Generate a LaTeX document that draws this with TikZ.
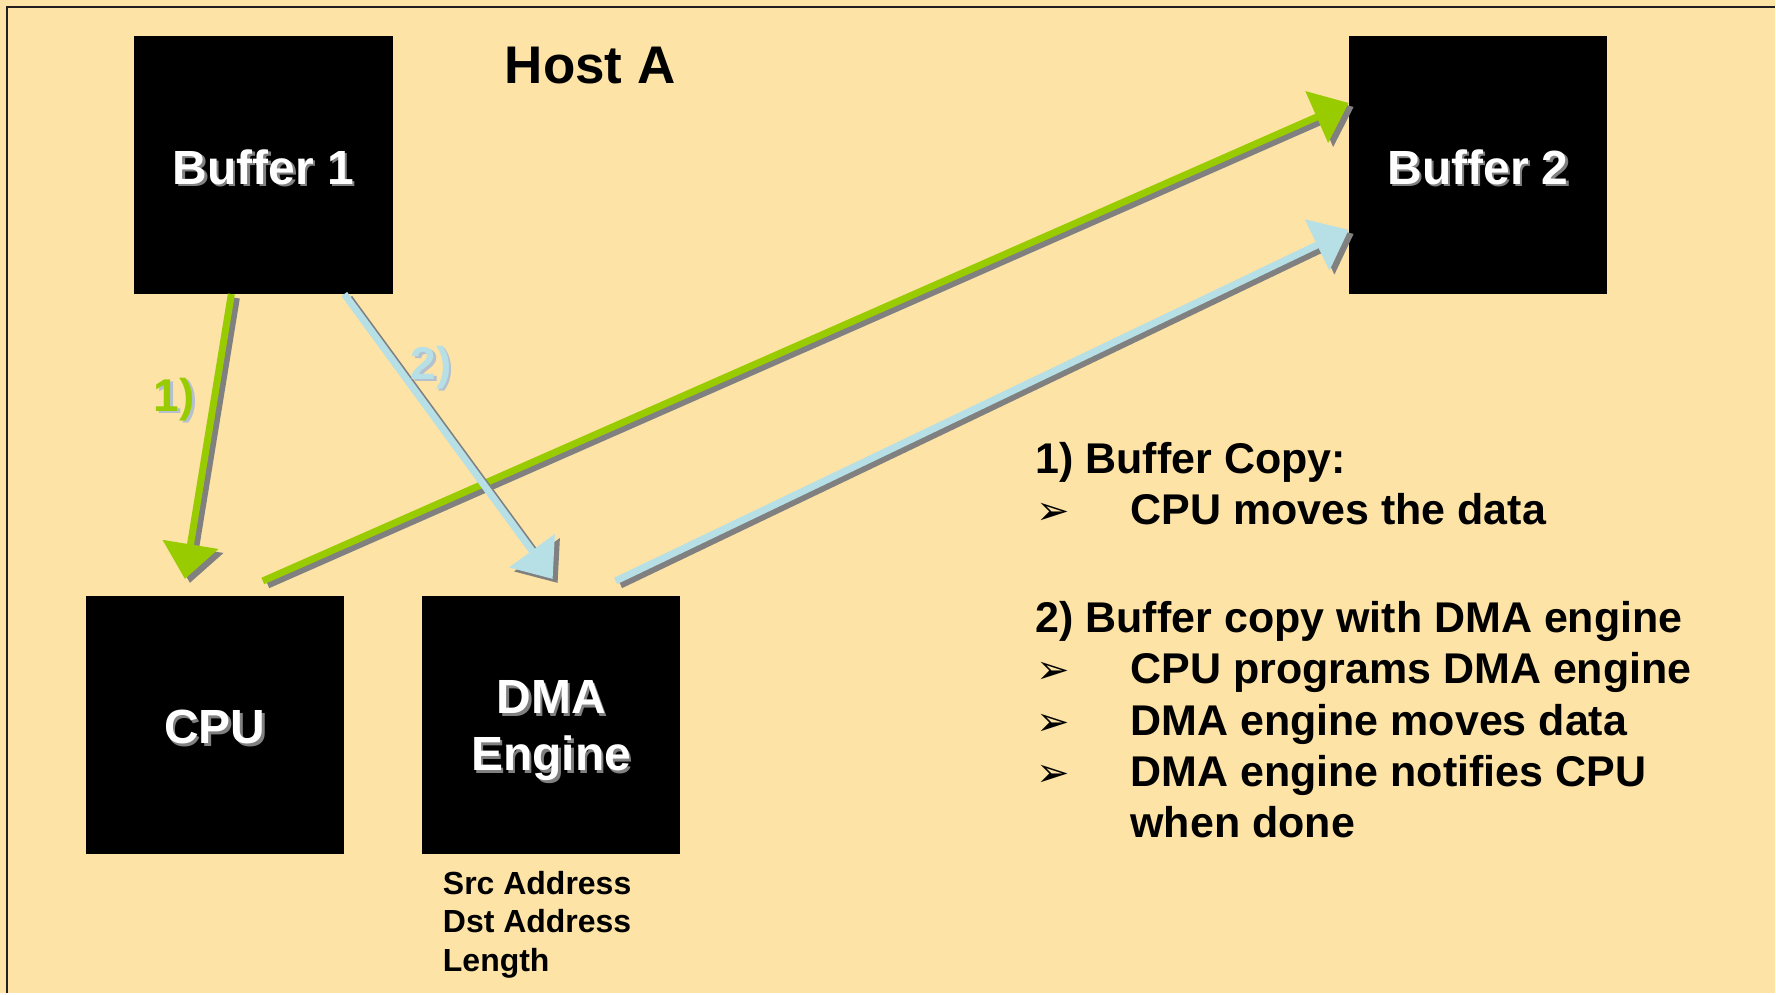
\documentclass[tikz,border=0pt]{standalone}
\usepackage{fontspec}
\setmainfont{Liberation Sans}
\newfontfamily\dingfont{DejaVu Sans}
\usetikzlibrary{arrows.meta}

\definecolor{paper}{RGB}{253,227,165}
\definecolor{leaf}{RGB}{153,204,0}
\definecolor{sky}{RGB}{183,223,230}
\definecolor{dropgray}{RGB}{128,128,128}
\definecolor{frameline}{RGB}{35,31,32}
\definecolor{tagshade}{RGB}{180,192,205}

% text with a small drop shadow behind it
\newcommand{\shadowed}[2]{\makebox[0pt][l]{\hspace{2.5pt}\raisebox{-2.5pt}{\textcolor{#1}{#2}}}#2}
% block title, lowered a little inside its block
\newcommand{\blocktitle}[2]{\raisebox{-#1}[\height][\depth]{\shadowed{dropgray}{#2}}}
% bullet line of the notes
\newcommand{\pointer}{\makebox[95pt][l]{\hspace{1pt}{\dingfont\fontsize{40}{40}\selectfont ➢}}}

\begin{document}
\begin{tikzpicture}[x=1pt,y=-1pt,
  block/.style={fill=black, draw=none, inner sep=0pt,
    minimum width=258.5pt, minimum height=258pt,
    text=white, align=center,
    font=\fontsize{48}{57}\selectfont\bfseries},
  flow/.style={line width=7pt, -{Triangle[length=35pt,width=55pt]}},
  castshadow/.style={dropgray, transform canvas={xshift=5pt,yshift=-4pt}},
  tag/.style={font=\fontsize{46}{46}\selectfont\bfseries, inner sep=0pt},
  note/.style={anchor=base west, inner sep=0pt, font=\fontsize{43}{51}\selectfont\bfseries},
  regs/.style={anchor=base west, inner sep=0pt, font=\fontsize{32}{38}\selectfont\bfseries},
]
% page and frame
\fill[paper] (0,0) rectangle (1776,994);
\draw[frameline, line width=2.2pt] (7,994) -- (7,7) -- (1776,7);

% title
\node[anchor=base west, inner sep=0pt, font=\fontsize{53}{53}\selectfont\bfseries] (hostA) at (505,84) {Host A};

% blocks
\node[block] (buf1) at (263.5,165) {\blocktitle{3.5pt}{Buffer 1}};
\node[block] (buf2) at (1479,165) {\blocktitle{3.5pt}{Buffer 2}};
\node[block] (cpu) at (215,725.5) {\blocktitle{3.5pt}{CPU}};
\node[block] (dma) at (551.5,725.5) {\blocktitle{7pt}{DMA}\\\blocktitle{7pt}{Engine}};

% DMA registers
\node[regs] (src) at (443,895) {Src Address};
\node[regs] (dst) at (443,933.5) {Dst Address};
\node[regs] (len) at (443,972) {Length};

% 1) buffer copy by the CPU
\coordinate (g1a) at ([xshift=-32pt]buf1.south);
\coordinate (g1b) at ([xshift=-30pt,yshift=17pt]cpu.north);
\coordinate (g2a) at ([xshift=48pt,yshift=15pt]cpu.north);
\coordinate (g2b) at ([yshift=62pt]buf2.west);
\draw[flow, castshadow] (g1a) -- (g1b);
\draw[flow, leaf] (g1a) -- (g1b);
\draw[flow, castshadow] (g2a) -- (g2b);
\draw[flow, leaf] (g2a) -- (g2b);

% 2) buffer copy by the DMA engine
\coordinate (b1a) at ([xshift=81pt]buf1.south);
\coordinate (b1b) at ([xshift=1.5pt,yshift=17pt]dma.north);
\coordinate (b2a) at ([xshift=64.5pt,yshift=15pt]dma.north);
\coordinate (b2b) at ([yshift=-65pt]buf2.west);
\draw[flow, castshadow] (b1a) -- (b1b);
\draw[flow, sky] (b1a) -- (b1b);
\draw[flow, castshadow] (b2a) -- (b2b);
\draw[flow, sky] (b2a) -- (b2b);

% step tags
\node[tag, text=leaf] (t1) at (174.5,401) {\shadowed{tagshade}{1)}};
\node[tag, text=sky] (t2) at (431.5,369) {\shadowed{tagshade}{2)}};

% notes
\node[note] (n1) at (1036,473.5) {1) Buffer Copy:};
\node[note] (n2) at (1036,524.5) {\pointer CPU moves the data};
\node[note] (n3) at (1036,633) {2) Buffer copy with DMA engine};
\node[note] (n4) at (1036,684) {\pointer CPU programs DMA engine};
\node[note] (n5) at (1036,735.5) {\pointer DMA engine moves data};
\node[note] (n6) at (1036,787) {\pointer DMA engine notifies CPU};
\node[note] (n7) at (1036,838) {\hspace*{95pt}when done};
\end{tikzpicture}
\end{document}
